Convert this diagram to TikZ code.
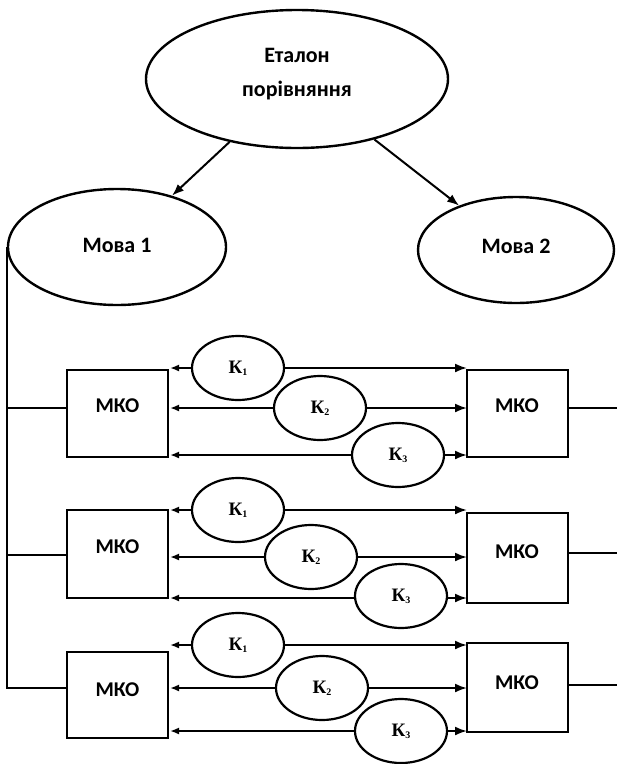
\documentclass[tikz,border=0pt]{standalone}
\usepackage{fontspec}
\setmainfont{Carlito}
\newfontfamily\kfont{Liberation Serif}
\usetikzlibrary{shapes.geometric,arrows.meta}
\tikzset{
  oval/.style={ellipse,draw,line width=2.4pt,inner sep=0pt,font=\fontsize{22}{34}\selectfont\bfseries,align=center},
  kov/.style={ellipse,draw,line width=2.2pt,inner sep=0pt,minimum width=92pt,minimum height=64pt,font=\kfont\fontsize{19}{19}\selectfont\bfseries},
  mko/.style={rectangle,draw,line width=2pt,inner sep=0pt,minimum width=101pt},
  mkotext/.style={font=\fontsize{21}{21}\selectfont\bfseries},
  wire/.style={line width=2pt},
  arr/.style={line width=2pt,-{Latex[length=12pt,width=9pt]}},
  larr/.style={line width=2pt,-{Latex[length=9pt,width=7pt]}}
}
\newcommand{\kl}[1]{К\raisebox{-2pt}{\fontsize{10}{10}\selectfont #1}}
\begin{document}
\begin{tikzpicture}[x=1pt,y=-1pt]
\useasboundingbox (0,0) rectangle (617,764);
% top level
\node[oval,minimum width=302pt,minimum height=138pt] (et) at (297,79) {\raisebox{21pt}{Еталон}\\[-8pt]\raisebox{13pt}{порівняння}};
\node[oval,minimum width=218pt,minimum height=116pt] (m1) at (117,247) {\raisebox{4pt}{Мова 1}};
\node[oval,minimum width=196pt,minimum height=106pt] (m2) at (516,250) {\raisebox{8pt}{Мова 2}};
\draw[arr] (et) -- (m1);
\draw[arr] (et) -- (m2);

% row 1
\node[mko,minimum height=87pt,label={[mkotext,yshift=8pt]center:МКО}] (L1) at (117.5,413.5) {};
\node[mko,minimum height=87pt,label={[mkotext,yshift=8pt]center:МКО}] (R1) at (517,413.5) {};
\node[kov] (a1) at (238,368) {\kl{1}};
\node[kov] (b1) at (320,408) {\kl{2}};
\node[kov] (c1) at (398,455) {\kl{3}};
\coordinate (la1) at (170,368); \coordinate (ra1) at (467,368);
\coordinate (lb1) at (170,408); \coordinate (rb1) at (467,408);
\coordinate (lc1) at (170,455); \coordinate (rc1) at (467,455);
\draw[larr] (a1) -- (la1); \draw[arr] (a1) -- (ra1);
\draw[larr] (b1) -- (lb1); \draw[arr] (b1) -- (rb1);
\draw[larr] (c1) -- (lc1); \draw[arr] (c1) -- (rc1);

% row 2
\node[mko,minimum height=88pt,label={[mkotext,yshift=7pt]center:МКО}] (L2) at (117.5,554) {};
\node[mko,minimum height=90pt,label={[mkotext,yshift=6pt]center:МКО}] (R2) at (517,558) {};
\node[kov] (a2) at (238,510) {\kl{1}};
\node[kov] (b2) at (311,557) {\kl{2}};
\node[kov] (c2) at (401,596) {\kl{3}};
\coordinate (la2) at (170,510); \coordinate (ra2) at (467,510);
\coordinate (lb2) at (170,557); \coordinate (rb2) at (467,557);
\coordinate (lc2) at (170,598); \coordinate (rc2) at (467,598);
\draw[larr] (a2) -- (la2); \draw[arr] (a2) -- (ra2);
\draw[larr] (b2) -- (lb2); \draw[arr] (b2) -- (rb2);
\draw[larr] (c2.west |- lc2) -- (lc2); \draw[arr] (c2.east |- rc2) -- (rc2);

% row 3
\node[mko,minimum height=86pt,label={[mkotext,yshift=5pt]center:МКО}] (L3) at (117.5,695) {};
\node[mko,minimum height=89pt,label={[mkotext,yshift=5pt]center:МКО}] (R3) at (517,687.5) {};
\node[kov] (a3) at (238,645) {\kl{1}};
\node[kov] (b3) at (322,688) {\kl{2}};
\node[kov] (c3) at (401,731) {\kl{3}};
\coordinate (la3) at (170,645); \coordinate (ra3) at (467,645);
\coordinate (lb3) at (170,688); \coordinate (rb3) at (467,688);
\coordinate (lc3) at (170,731); \coordinate (rc3) at (467,731);
\draw[larr] (a3) -- (la3); \draw[arr] (a3) -- (ra3);
\draw[larr] (b3) -- (lb3); \draw[arr] (b3) -- (rb3);
\draw[larr] (c3) -- (lc3); \draw[arr] (c3) -- (rc3);

% left bus
\coordinate (p1) at (67,408);
\coordinate (p2) at (67,555);
\coordinate (p3) at (67,688);
\draw[wire] (m1.west) |- (p3);
\draw[wire] (m1.west |- p1) -- (p1);
\draw[wire] (m1.west |- p2) -- (p2);

% right outputs
\coordinate (q1) at (617,408);
\coordinate (q2) at (617,553);
\coordinate (q3) at (617,685);
\draw[wire] (R1.east |- q1) -- (q1);
\draw[wire] (R2.east |- q2) -- (q2);
\draw[wire] (R3.east |- q3) -- (q3);
\end{tikzpicture}
\end{document}
